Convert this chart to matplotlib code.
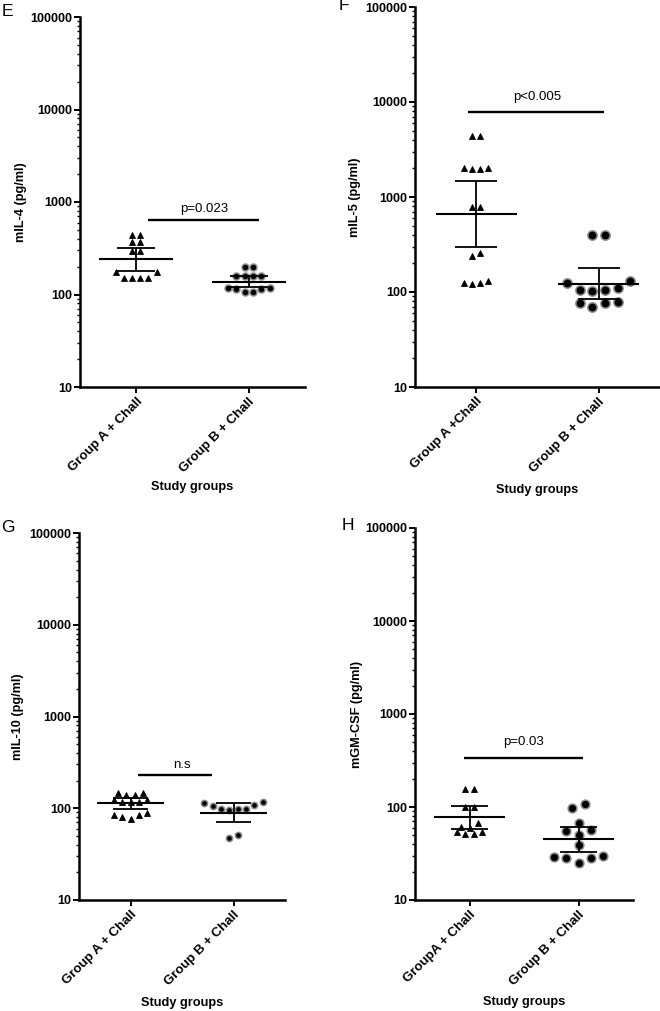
import numpy as np
import matplotlib
matplotlib.use("Agg")
import matplotlib.pyplot as plt
from matplotlib.ticker import LogLocator, FuncFormatter, NullFormatter

plt.rcParams['font.family'] = ['Liberation Sans', 'DejaVu Sans']

# ---- data ----
letters = ["E", "F", "G", "H"]
ylabels = ["mIL-4 (pg/ml)", "mIL-5 (pg/ml)", "mIL-10 (pg/ml)", "mGM-CSF (pg/ml)"]
xticklabels = [["Group A + Chall", "Group B + Chall"],
               ["Group A +Chall", "Group B + Chall"],
               ["Group A + Chall", "Group B + Chall"],
               ["GroupA + Chall", "Group B + Chall"]]
pvals = ["p=0.023", "p<0.005", "n.s", "p=0.03"]

il4_a = [440, 440, 370, 370, 295, 295, 175, 175, 151, 151, 151, 151]
il4_b = [198, 198, 158, 158, 158, 158, 117, 115, 106, 106, 115, 117]
il5_a = [4400, 4400, 2000, 1950, 1950, 2000, 790, 790, 258, 238, 125, 121, 125, 131]
il5_b = [400, 400, 131, 110, 105, 102, 105, 124, 77, 70, 77, 79]
il10_a = [147, 147, 140, 140, 123, 123, 117, 117, 117, 89, 84, 84, 80, 76]
il10_b = [117, 108, 98, 96, 98, 98, 106, 114, 51, 47]
gmcsf_a = [156, 156, 100, 100, 67, 60, 61, 54, 51, 51, 54]
gmcsf_b = [108, 97, 67, 57, 55, 50, 39, 30, 28, 25, 28, 29]

# geometric mean with 95% CI (centre, low, high) as drawn
il4_stats = [(242, 180, 318), (137, 120, 158)]
il5_stats = [(662, 298, 1473), (121, 84, 179)]
il10_stats = [(114, 98, 129), (89, 71, 114)]
gmcsf_stats = [(78, 58, 102), (45, 33, 61)]

bracket_y = [638, 7850, 230, 336]

data = [(il4_a, il4_b), (il5_a, il5_b), (il10_a, il10_b), (gmcsf_a, gmcsf_b)]
stats = [il4_stats, il5_stats, il10_stats, gmcsf_stats]

# ---- layout (pixels) ----
W, H = 660, 1011
rects = [(80, 17, 305, 387), (415, 7, 660, 387), (79, 533, 285, 900), (415, 528, 633, 900)]
ylab_x = [21, 355, 18, 357]
xlab_y = [487, 490, 1003, 1002]
letter_xy = [(7, 12), (344, 6), (8, 527), (348, 526)]
bracket_x = [(0.10, 1.09), (-0.07, 1.04), (0.07, 0.79), (-0.05, 1.04)]
ptext_x = [0.6, 0.5, 0.5, 0.5]
ptext_gap = [11, 15, 10, 16]
tri_ms = [4.0, 4.0, 4.0, 4.0]
circ_ms = [5.0, 6.7, 4.5, 6.3]
step_a = [0.072, 0.066, 0.081, 0.078]
step_b = [0.074, 0.103, 0.081, 0.112]
thr_a = [0.07, 0.07, 0.05, 0.045]
thr_b = [0.06, 0.07, 0.06, 0.06]


def swarm(vals, thr, step):
    # GraphPad-like rows: close values side by side, lowest in the middle
    v = np.asarray(vals, float)
    lv = np.log10(v)
    order = np.argsort(-v, kind="stable")
    rows = [[order[0]]]
    for i in order[1:]:
        if lv[rows[-1][-1]] - lv[i] <= thr:
            rows[-1].append(i)
        else:
            rows.append([i])
    off = np.zeros(len(v))
    for r in rows:
        n = len(r)
        slots = sorted((np.arange(n) - (n - 1) / 2) * step, key=lambda s: (abs(s), s))
        for i, s in zip(sorted(r, key=lambda k: v[k]), slots):
            off[i] = s
    return off


fig = plt.figure(figsize=(W / 100, H / 100), dpi=100)
lab_font = dict(fontsize=9.2, fontweight="bold")

for k in range(4):
    l, t, r, b = rects[k]
    ax = fig.add_axes([l / W, 1 - b / H, (r - l) / W, (b - t) / H])
    ax.set_yscale("log")
    ax.set_ylim(10, 100000)
    ax.set_xlim(-0.5, 1.5)

    for g, vals in enumerate(data[k]):
        off = swarm(vals, thr_a[k] if g == 0 else thr_b[k], step_a[k] if g == 0 else step_b[k])
        if g == 0:
            ax.plot(g + off, vals, ls="none", marker="^", ms=tri_ms[k], mfc="black",
                    mec="black", mew=0.6, zorder=2, clip_on=False)
        else:
            ax.plot(g + off, vals, ls="none", marker="o", ms=circ_ms[k], mfc="black",
                    mec="#8c8c8c", mew=1.1, zorder=2, clip_on=False)
        c, lo, hi = stats[k][g]
        ax.hlines(c, g - 0.33, g + 0.33, color="black", lw=1.5, zorder=3)
        ax.vlines(g, lo, hi, color="black", lw=1.3, zorder=3)
        ax.hlines([lo, hi], g - 0.17, g + 0.17, color="black", lw=1.3, zorder=3)

    # significance bar
    x0, x1 = bracket_x[k]
    ax.hlines(bracket_y[k], x0, x1, color="black", lw=1.7)
    ax.annotate(pvals[k], xy=(ptext_x[k], bracket_y[k]), xycoords="data",
                xytext=(0, ptext_gap[k]), textcoords="offset pixels",
                ha="center", va="center", fontsize=9.5)

    for s in ["top", "right"]:
        ax.spines[s].set_visible(False)
    for s in ["left", "bottom"]:
        ax.spines[s].set_linewidth(1.8)

    ax.yaxis.set_major_locator(LogLocator(base=10, numticks=10))
    ax.yaxis.set_minor_locator(LogLocator(base=10, subs=np.arange(2, 10), numticks=20))
    ax.yaxis.set_major_formatter(FuncFormatter(lambda v, _: f"{v:g}"))
    ax.yaxis.set_minor_formatter(NullFormatter())
    ax.tick_params(axis="y", which="major", length=4, width=1.4, pad=1.5)
    ax.tick_params(axis="y", which="minor", length=2.5, width=1.0)
    ax.tick_params(axis="x", length=4, width=1.4, pad=2)
    for lab in ax.get_yticklabels():
        lab.set_fontsize(9)
        lab.set_fontweight("bold")

    ax.set_xticks([0, 1])
    ax.set_xticklabels(xticklabels[k], rotation=45, ha="right", va="top",
                       rotation_mode="anchor", fontsize=9.5, fontweight="bold")

    fig.text(ylab_x[k] / W, 1 - (t + b) / 2 / H, ylabels[k], rotation=90,
             ha="center", va="center", **lab_font)
    fig.text((l + r) / 2 / W, 1 - xlab_y[k] / H, "Study groups",
             ha="center", va="center", **lab_font)
    fig.text(letter_xy[k][0] / W, 1 - letter_xy[k][1] / H, letters[k],
             ha="center", va="center", fontsize=12.5)

fig.savefig("out.png", dpi=100)
